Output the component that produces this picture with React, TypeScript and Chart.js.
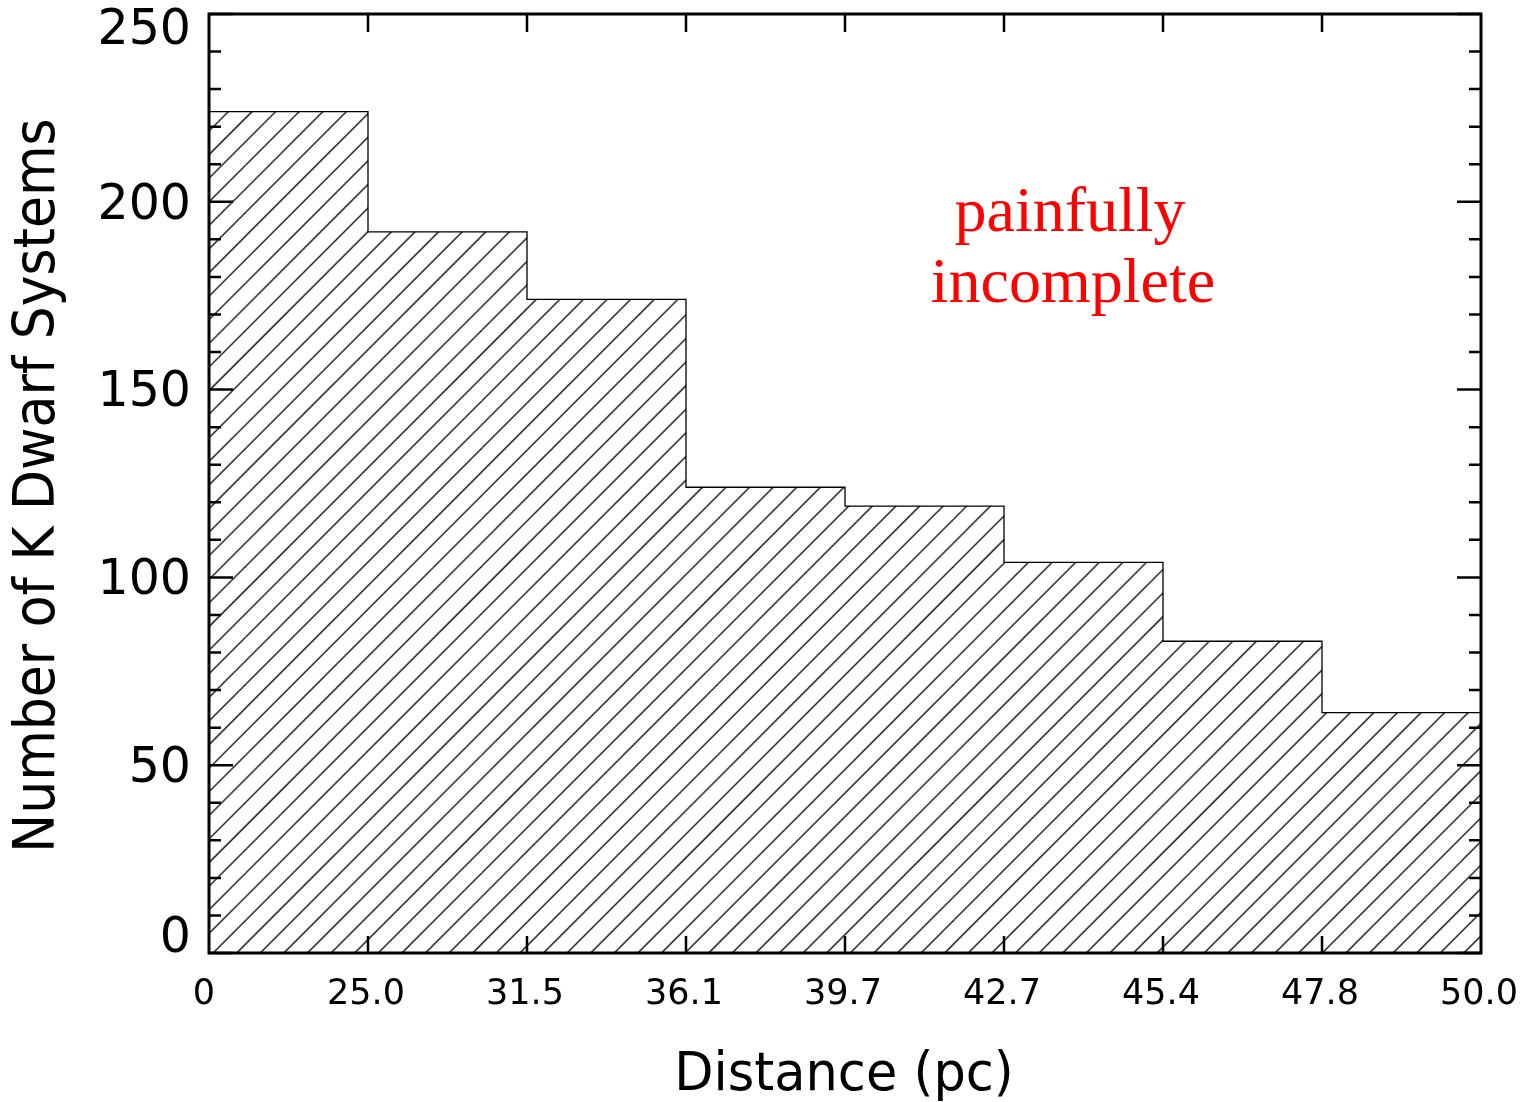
import React, { useEffect, useRef } from "react";
import { Chart, registerables } from "chart.js";

Chart.register(...registerables);

const counts = [224, 192, 174, 124, 119, 104, 83, 64];
const edgeLabels = ["0", "25.0", "31.5", "36.1", "39.7", "42.7", "45.4", "47.8", "50.0"];
const yMajorTicks = [0, 50, 100, 150, 200, 250];
const yMinorStep = 10;
const xTitle = "Distance (pc)";
const yTitle = "Number of K Dwarf Systems";
const noteLines = ["painfully", "incomplete"];

const SANS = "'DejaVu Sans', sans-serif";
const SERIF = "'Liberation Serif', 'Times New Roman', serif";

function makeHatch(): CanvasPattern | string {
  const spacing = 23.6;
  const size = Math.round(spacing * 10);
  const c = document.createElement("canvas");
  c.width = size;
  c.height = size;
  const g = c.getContext("2d");
  if (!g) return "#fff";
  g.fillStyle = "#fff";
  g.fillRect(0, 0, size, size);
  g.strokeStyle = "#000";
  g.lineWidth = 1.3;
  for (let k = -1; k <= 21; k++) {
    const cc = k * spacing;
    g.beginPath();
    g.moveTo(cc + 10, -10);
    g.lineTo(cc - size - 10, size + 10);
    g.stroke();
  }
  const ctx2 = document.createElement("canvas").getContext("2d");
  const p = (ctx2 || g).createPattern(c, "repeat");
  if (!p) return "#fff";
  try {
    p.setTransform(new DOMMatrix([1, 0, 0, 1, 9.6, 0]));
  } catch (e) {
    /* ignore */
  }
  return p;
}

const decorPlugin = {
  id: "decor",
  afterDraw(chart: any) {
    const { ctx, chartArea } = chart;
    const { left, right, top, bottom } = chartArea;
    const xs = chart.scales.x;
    const ys = chart.scales.y;
    ctx.save();
    ctx.strokeStyle = "#000";
    ctx.fillStyle = "#000";

    // frame
    ctx.lineWidth = 3;
    ctx.strokeRect(left, top, right - left, bottom - top);

    // y ticks (major + minor), both sides
    ctx.lineWidth = 2.5;
    for (let v = 0; v <= 250; v += yMinorStep) {
      const py = ys.getPixelForValue(v);
      const len = yMajorTicks.includes(v) ? 24 : 12;
      ctx.beginPath();
      ctx.moveTo(left, py);
      ctx.lineTo(left + len, py);
      ctx.moveTo(right, py);
      ctx.lineTo(right - len, py);
      ctx.stroke();
    }
    // x ticks top and bottom
    for (let i = 1; i < edgeLabels.length - 1; i++) {
      const px = xs.getPixelForValue(i);
      ctx.beginPath();
      ctx.moveTo(px, bottom);
      ctx.lineTo(px, bottom - 17);
      ctx.moveTo(px, top);
      ctx.lineTo(px, top + 18);
      ctx.stroke();
    }

    // y tick labels
    ctx.font = `49px ${SANS}`;
    ctx.textAlign = "right";
    ctx.textBaseline = "middle";
    yMajorTicks.forEach((v) => {
      let py = ys.getPixelForValue(v) + 4;
      py = Math.max(31, Math.min(bottom - 14, py));
      ctx.fillText(String(v), 191, py);
    });

    // x tick labels
    ctx.font = `35px ${SANS}`;
    ctx.textAlign = "center";
    ctx.textBaseline = "alphabetic";
    edgeLabels.forEach((lab, i) => {
      const px = xs.getPixelForValue(i) - (i === 0 ? 5 : 2);
      ctx.fillText(lab, px, 1004);
    });

    // x title
    ctx.font = `51px ${SANS}`;
    ctx.textAlign = "center";
    ctx.textBaseline = "alphabetic";
    ctx.save();
    ctx.translate((left + right) / 2 - 1, 1090);
    ctx.scale(1, 1.05);
    ctx.fillText(xTitle, 0, 0);
    ctx.restore();

    // y title
    ctx.save();
    ctx.translate(54, (top + bottom) / 2 + 2);
    ctx.rotate(-Math.PI / 2);
    ctx.scale(1.0, 1.08);
    ctx.font = `52px ${SANS}`;
    ctx.textAlign = "center";
    ctx.textBaseline = "alphabetic";
    ctx.fillText(yTitle, 0, 0);
    ctx.restore();

    // red annotation
    ctx.fillStyle = "#ff0000";
    ctx.font = `64px ${SERIF}`;
    ctx.textAlign = "center";
    ctx.textBaseline = "alphabetic";
    const notePos = [
      [1070, 231],
      [1073, 302],
    ];
    noteLines.forEach((t, i) => {
      ctx.fillText(t, notePos[i][0], notePos[i][1]);
    });

    ctx.restore();
  },
};

export default function App() {
  const ref = useRef<HTMLCanvasElement | null>(null);
  useEffect(() => {
    document.body.style.margin = "0";
    const canvas = ref.current;
    if (!canvas) return;
    const points = counts.map((c, i) => ({ x: i, y: c }));
    points.push({ x: counts.length, y: counts[counts.length - 1] });
    const chart = new Chart(canvas, {
      type: "line",
      data: {
        datasets: [
          {
            data: points,
            stepped: true,
            fill: "origin",
            backgroundColor: makeHatch() as any,
            borderColor: "#000",
            borderWidth: 1.3,
            pointRadius: 0,
            pointHoverRadius: 0,
          } as any,
        ],
      },
      options: {
        responsive: false,
        animation: false,
        devicePixelRatio: 1,
        layout: { padding: { top: 14, right: 41, left: 0, bottom: 0 } },
        plugins: { legend: { display: false }, tooltip: { enabled: false } },
        events: [],
        scales: {
          x: {
            type: "linear",
            min: 0,
            max: edgeLabels.length - 1,
            ticks: { display: false, stepSize: 1 },
            grid: { display: false },
            border: { display: false },
            afterFit: (s: any) => {
              s.height = 149;
            },
          },
          y: {
            type: "linear",
            min: 0,
            max: 250,
            ticks: { display: false, stepSize: 50 },
            grid: { display: false },
            border: { display: false },
            afterFit: (s: any) => {
              s.width = 209;
            },
          },
        },
      } as any,
      plugins: [decorPlugin],
    });
    return () => chart.destroy();
  }, []);
  return (
    <div style={{ position: "absolute", left: 0, top: 0, width: 1522, height: 1102, background: "#fff" }}>
      <canvas ref={ref} width={1522} height={1102} style={{ width: 1522, height: 1102, display: "block" }} />
    </div>
  );
}
